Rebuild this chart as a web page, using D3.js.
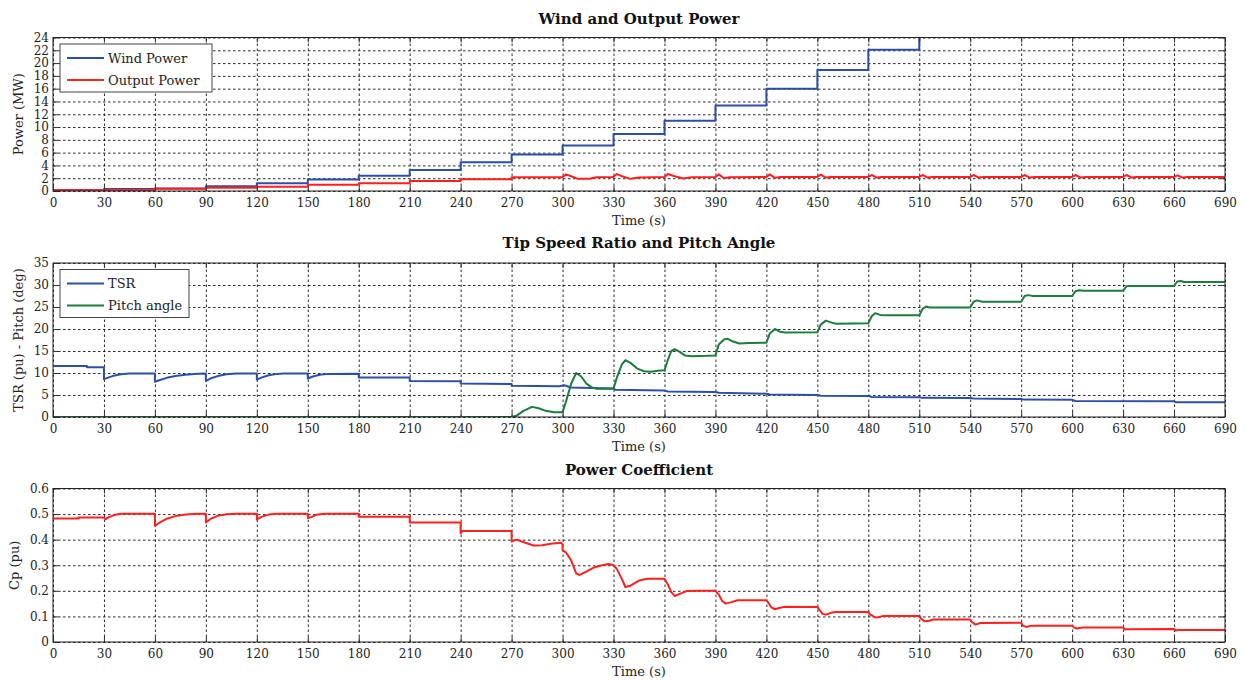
<!DOCTYPE html>
<html>
<head>
<meta charset="utf-8">
<script src="https://cdn.jsdelivr.net/npm/d3@7/dist/d3.min.js"></script>
<style>
  html, body { margin: 0; padding: 0; background: #fff; }
  svg { display: block; font-family: "DejaVu Serif", "Liberation Serif", serif; }
</style>
</head>
<body>
<svg id="chart" width="1245" height="680"></svg>
<script>
// ---------- DATA ----------
const timeTicks = d3.range(0, 691, 30);

// Panel 1: Wind and Output Power (MW)
const powerTicks = [0, 2, 4, 6, 8, 10, 12, 14, 16, 18, 20, 22, 24];
const windStepTimes = [0, 30, 60, 90, 120, 150, 180, 210, 240, 270, 300, 330, 360, 390, 420, 450, 480, 510, 540];
const windPower = [0.15, 0.3, 0.4, 0.75, 1.2, 1.8, 2.4, 3.3, 4.5, 5.7, 7.1, 8.9, 11.0, 13.35, 16.0, 18.9, 22.1, 26.0, 26.0];
const outputPower = [
  [0, 0.1], [30, 0.1], [30, 0.15], [60, 0.15], [60, 0.35], [90, 0.35], [90, 0.5], [120, 0.5],
  [120, 0.65], [150, 0.65], [150, 0.97], [180, 0.97], [180, 1.2], [210, 1.2], [210, 1.55], [240, 1.55],
  [240, 1.85], [270, 1.85], [270, 2.15], [300, 2.15],
  [302, 2.6], [305, 2.3], [309, 1.9], [316, 1.9], [320, 2.15], [330, 2.2],
  [332, 2.65], [335, 2.3], [340, 1.9], [345, 2.1], [360, 2.2],
  [362, 2.65], [366, 2.3], [371, 1.95], [376, 2.15], [390, 2.2],
  [392, 2.6], [395, 2.0], [398, 2.15], [420, 2.2],
  [422, 2.6], [425, 2.05], [428, 2.2], [450, 2.2],
  [452, 2.55], [455, 2.1], [458, 2.2], [480, 2.2],
  [482, 2.5], [485, 2.1], [488, 2.2], [510, 2.2],
  [512, 2.5], [515, 2.1], [518, 2.2], [540, 2.2],
  [542, 2.5], [545, 2.1], [548, 2.2], [570, 2.2],
  [572, 2.5], [575, 2.1], [578, 2.2], [600, 2.2],
  [602, 2.5], [605, 2.1], [608, 2.2], [630, 2.2],
  [632, 2.5], [635, 2.1], [638, 2.2], [660, 2.2],
  [662, 2.45], [665, 2.1], [668, 2.2], [690, 2.2]
];

// Panel 2: Tip Speed Ratio (pu) and Pitch angle (deg)
const tsrTicks = [0, 5, 10, 15, 20, 25, 30, 35];
const tsr = [
  [0, 11.6], [20, 11.6], [20, 11.3], [30, 11.3], [30, 8.6], [32, 8.9], [35, 9.3], [40, 9.7], [45, 9.9],
  [60, 9.9], [60, 8.0], [63, 8.4], [67, 8.9], [72, 9.3], [78, 9.6], [85, 9.85], [90, 9.9],
  [90, 8.2], [93, 8.8], [97, 9.3], [102, 9.7], [108, 9.9], [120, 9.9],
  [120, 8.5], [123, 9.0], [127, 9.5], [132, 9.8], [136, 9.9], [150, 9.9],
  [150, 8.75], [153, 9.2], [157, 9.6], [162, 9.8], [180, 9.85],
  [180, 9.0], [210, 9.0], [210, 8.2], [240, 8.1], [240, 7.6], [270, 7.5], [270, 7.1],
  [298, 7.0], [301, 7.2], [305, 6.7], [330, 6.5], [331, 6.2], [360, 6.0], [362, 5.8],
  [390, 5.7], [392, 5.5], [420, 5.3], [422, 5.1], [450, 5.0], [452, 4.85], [480, 4.8],
  [482, 4.55], [510, 4.5], [512, 4.35], [540, 4.3], [542, 4.2], [570, 4.1], [572, 3.95],
  [600, 3.9], [602, 3.65], [660, 3.6], [661, 3.35], [690, 3.35]
];
const pitch = [
  [0, 0], [270, 0], [273, 0.3], [277, 1.4], [282, 2.3], [286, 2.0], [290, 1.4], [295, 1.1], [300, 1.1],
  [302, 3.5], [305, 7.5], [308, 10.0], [311, 9.2], [314, 7.6], [317, 6.8], [320, 6.4], [330, 6.4],
  [332, 9.0], [335, 12.0], [337, 12.9], [340, 12.3], [344, 11.0], [348, 10.4], [352, 10.3], [356, 10.5], [360, 10.6],
  [362, 13.0], [364, 15.0], [366, 15.4], [369, 14.8], [372, 14.0], [376, 13.8], [385, 13.9], [390, 14.0],
  [392, 16.5], [395, 17.6], [397, 17.8], [400, 17.2], [404, 16.7], [410, 16.8], [420, 16.9],
  [422, 19.0], [425, 20.0], [428, 19.4], [431, 19.2], [450, 19.25],
  [452, 21.0], [455, 21.9], [458, 21.5], [461, 21.2], [480, 21.3],
  [482, 22.9], [484, 23.6], [487, 23.2], [490, 23.1], [510, 23.1],
  [512, 24.6], [514, 25.1], [516, 24.9], [540, 24.9],
  [542, 26.2], [544, 26.5], [547, 26.2], [570, 26.2],
  [572, 27.5], [574, 27.7], [577, 27.5], [600, 27.5],
  [602, 28.6], [604, 28.8], [607, 28.7], [630, 28.7],
  [632, 29.7], [634, 29.8], [660, 29.8],
  [662, 30.8], [664, 30.9], [666, 30.7], [690, 30.7]
];

// Panel 3: Power Coefficient (pu)
const cpTicks = [0, 0.1, 0.2, 0.3, 0.4, 0.5, 0.6];
const cpTickLabels = ["0", "0.1", "0.2", "0.3", "0.4", "0.5", "0.6"];
const cp = [
  [0, 0.483], [15, 0.483], [15, 0.487], [30, 0.487], [31, 0.48], [33, 0.488], [36, 0.496], [40, 0.501], [60, 0.501],
  [60, 0.454], [63, 0.468], [67, 0.482], [72, 0.492], [78, 0.498], [85, 0.501], [90, 0.501],
  [90, 0.467], [93, 0.482], [97, 0.493], [102, 0.499], [108, 0.501], [120, 0.501],
  [120, 0.479], [123, 0.490], [127, 0.498], [132, 0.501], [150, 0.501],
  [150, 0.485], [152, 0.488], [155, 0.497], [160, 0.501], [180, 0.501],
  [180, 0.49], [210, 0.49], [210, 0.467], [240, 0.467], [240, 0.425], [241, 0.434], [270, 0.434],
  [270, 0.393], [273, 0.40], [278, 0.388], [283, 0.377], [288, 0.378], [293, 0.384], [299, 0.388],
  [300, 0.382], [300, 0.358], [302, 0.35], [305, 0.32], [308, 0.268], [310, 0.262], [314, 0.275],
  [318, 0.29], [322, 0.298], [327, 0.305], [330, 0.3],
  [332, 0.285], [335, 0.245], [337, 0.215], [340, 0.22], [345, 0.24], [350, 0.247], [360, 0.247],
  [362, 0.225], [364, 0.195], [366, 0.180], [369, 0.188], [373, 0.199], [380, 0.2], [390, 0.2],
  [392, 0.185], [394, 0.16], [396, 0.15], [399, 0.155], [403, 0.163], [420, 0.163],
  [421, 0.155], [423, 0.135], [425, 0.128], [428, 0.134], [431, 0.138], [450, 0.137],
  [451, 0.128], [453, 0.11], [455, 0.107], [458, 0.114], [461, 0.117], [480, 0.117],
  [481, 0.108], [484, 0.096], [486, 0.097], [489, 0.102], [510, 0.102],
  [511, 0.092], [513, 0.081], [516, 0.083], [518, 0.088], [540, 0.088],
  [541, 0.078], [543, 0.068], [546, 0.074], [570, 0.075],
  [571, 0.064], [573, 0.059], [576, 0.064], [600, 0.064],
  [601, 0.057], [603, 0.053], [606, 0.057], [630, 0.057],
  [631, 0.049], [632, 0.05], [660, 0.051],
  [661, 0.045], [663, 0.047], [690, 0.047]
];

// ---------- DRAWING ----------
const svg = d3.select("#chart");
const X0 = 53, X1 = 1225;
const COLORS = { blue: "#2b4fa8", red: "#ff1f1f", green: "#1b7d3c" };

const x = d3.scaleLinear().domain([0, 690]).range([X0, X1]);

function panel(cfg) {
  const y = d3.scaleLinear().domain([cfg.ticks[0], cfg.ticks[cfg.ticks.length - 1]]).range([cfg.bottom, cfg.top]);
  const g = svg.append("g");
  const h = cfg.bottom - cfg.top, w = X1 - X0;
  const clipId = "clip" + cfg.id;
  svg.append("clipPath").attr("id", clipId).append("rect")
    .attr("x", X0).attr("y", cfg.top).attr("width", w).attr("height", h);

  // grid
  const grid = g.append("g").attr("class", "grid");
  grid.append("g").attr("transform", `translate(0,${cfg.bottom})`)
    .call(d3.axisBottom(x).tickValues(timeTicks).tickSize(-h).tickFormat(""))
    .call(s => s.select(".domain").remove());
  grid.append("g").attr("transform", `translate(${X0},0)`)
    .call(d3.axisLeft(y).tickValues(cfg.ticks).tickSize(-w).tickFormat(""))
    .call(s => s.select(".domain").remove());
  grid.selectAll("line").attr("stroke", "#111").attr("stroke-width", 0.9).attr("stroke-dasharray", "2.5,2.5");

  // lines
  const lg = g.append("g").attr("clip-path", `url(#${clipId})`);
  cfg.series.forEach(s => {
    const gen = d3.line().x(d => x(d[0])).y(d => y(d[1]));
    if (s.step) gen.curve(d3.curveStepAfter);
    lg.append("path").datum(s.data).attr("fill", "none").attr("stroke", s.color)
      .attr("stroke-width", 2).attr("stroke-linejoin", "round").attr("d", gen);
  });

  // axes with inward ticks
  const axB = g.append("g").attr("transform", `translate(0,${cfg.bottom})`)
    .call(d3.axisBottom(x).tickValues(timeTicks).tickSizeInner(-5).tickSizeOuter(0).tickPadding(7));
  const axT = g.append("g").attr("transform", `translate(0,${cfg.top})`)
    .call(d3.axisTop(x).tickValues(timeTicks).tickSizeInner(-5).tickSizeOuter(0).tickFormat(""));
  const axL = g.append("g").attr("transform", `translate(${X0},0)`)
    .call(d3.axisLeft(y).tickValues(cfg.ticks).tickSizeInner(-5).tickSizeOuter(0).tickPadding(4)
      .tickFormat((d, i) => cfg.labels[i]));
  const axR = g.append("g").attr("transform", `translate(${X1},0)`)
    .call(d3.axisRight(y).tickValues(cfg.ticks).tickSizeInner(-5).tickSizeOuter(0).tickFormat(""));
  [axB, axT, axL, axR].forEach(a => {
    a.select(".domain").remove();
    a.selectAll("line").attr("stroke", "#333").attr("stroke-width", 1);
    a.selectAll("text").attr("font-family", "DejaVu Serif").attr("font-size", 12).attr("fill", "#222");
  });

  // frame
  g.append("rect").attr("x", X0).attr("y", cfg.top).attr("width", w).attr("height", h)
    .attr("fill", "none").attr("stroke", "#222").attr("stroke-width", 1);

  // title
  svg.append("text").attr("x", (X0 + X1) / 2).attr("y", cfg.titleY).attr("text-anchor", "middle")
    .attr("font-size", 15).attr("font-weight", "bold").attr("fill", "#111").text(cfg.title);
  // x label
  svg.append("text").attr("x", (X0 + X1) / 2).attr("y", cfg.bottom + 34).attr("text-anchor", "middle")
    .attr("font-size", 13).attr("fill", "#222").text("Time (s)");
  // y label
  svg.append("text").attr("transform", `translate(${cfg.ylabX},${(cfg.top + cfg.bottom) / 2}) rotate(-90)`)
    .attr("text-anchor", "middle").attr("font-size", 13).attr("fill", "#222").text(cfg.ylabel);

  // legend
  if (cfg.legend) {
    const L = cfg.legend;
    const lgd = svg.append("g");
    lgd.append("rect").attr("x", X0 + 7).attr("y", cfg.top + 6.5).attr("width", L.w).attr("height", 48)
      .attr("fill", "#fff").attr("stroke", "#444").attr("stroke-width", 1);
    L.items.forEach((it, i) => {
      const yy = cfg.top + 20.5 + i * 22;
      lgd.append("line").attr("x1", X0 + 14).attr("x2", X0 + 51).attr("y1", yy).attr("y2", yy)
        .attr("stroke", it.color).attr("stroke-width", 2);
      lgd.append("text").attr("x", X0 + 55).attr("y", yy + 4.5).attr("font-size", 13).attr("fill", "#222").text(it.label);
    });
  }
}

panel({
  id: 1, top: 37.5, bottom: 191, ticks: powerTicks, labels: powerTicks.map(String),
  title: "Wind and Output Power", titleY: 24, ylabel: "Power (MW)", ylabX: 23,
  series: [
    { data: windStepTimes.map((t, i) => [t, windPower[i]]), color: COLORS.blue, step: true },
    { data: outputPower, color: COLORS.red }
  ],
  legend: { w: 152, items: [{ label: "Wind Power", color: COLORS.blue }, { label: "Output Power", color: COLORS.red }] }
});

panel({
  id: 2, top: 263, bottom: 417, ticks: tsrTicks, labels: tsrTicks.map(String),
  title: "Tip Speed Ratio and Pitch Angle", titleY: 248, ylabel: "TSR (pu) - Pitch (deg)", ylabX: 23,
  series: [
    { data: tsr, color: COLORS.blue },
    { data: pitch, color: COLORS.green }
  ],
  legend: { w: 129, items: [{ label: "TSR", color: COLORS.blue }, { label: "Pitch angle", color: COLORS.green }] }
});

panel({
  id: 3, top: 488.5, bottom: 642, ticks: cpTicks, labels: cpTickLabels,
  title: "Power Coefficient", titleY: 475, ylabel: "Cp (pu)", ylabX: 19,
  series: [{ data: cp, color: COLORS.red }]
});
</script>
</body>
</html>
